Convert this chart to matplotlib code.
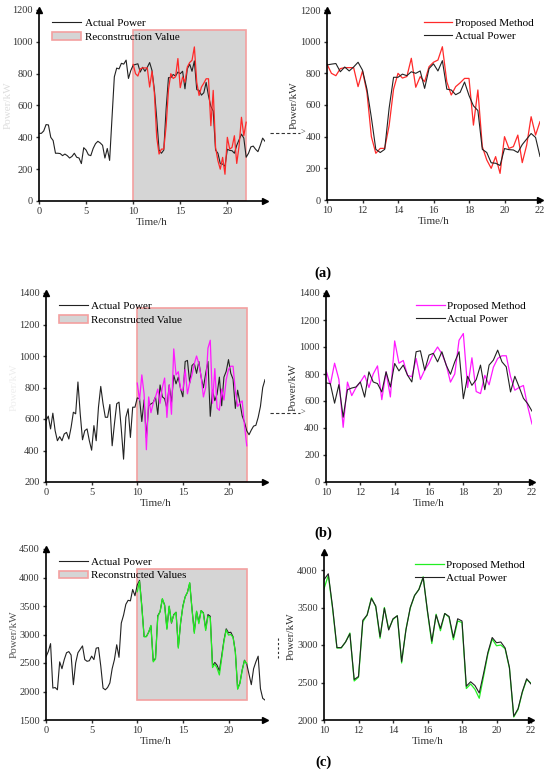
import numpy as np
import matplotlib.pyplot as plt
from matplotlib.lines import Line2D
from matplotlib.patches import Patch, Rectangle

plt.rcParams['font.family'] = ['Liberation Serif', 'DejaVu Serif']

# time axes (15 min steps)
t_day = np.arange(0, 24.01, 0.25)
t_win = np.arange(10, 22.01, 0.25)

# ---- case (a) ----
a_before = [425, 425, 440, 480, 478, 400, 380, 300, 300, 298, 285, 295, 285, 270, 280, 300,
            275, 270, 235, 335, 320, 290, 285, 330, 360, 375, 365, 350, 270, 330, 255, 520,
            780, 835, 830, 865, 860, 885, 770, 820]
a_actual = [853, 858, 862, 810, 840, 815, 840, 870, 820, 700, 520, 320, 300, 320, 580, 775,
            775, 795, 785, 810, 800, 815, 705, 830, 860, 815, 880, 700, 695, 665, 680, 745,
            660, 595, 565, 320, 300, 235, 232, 218, 325, 318, 316, 300, 350, 385, 420, 395, 275]
a_after = [300, 340, 345, 325, 310, 350, 395, 375]
a_recon = [858, 800, 785, 830, 836, 836, 836, 716, 815, 680, 400, 295, 326, 326, 470, 700,
           800, 770, 780, 895, 712, 779, 747, 842, 870, 884, 968, 747, 663, 716, 740, 768,
           768, 473, 695, 337, 253, 200, 274, 168, 400, 326, 337, 410, 236, 347, 526, 410, 495]

# ---- case (b) ----
b_before = [590, 618, 537, 637, 526, 462, 488, 462, 505, 515, 473, 547, 643, 633, 835, 633,
            468, 526, 537, 462, 402, 558, 462, 675, 807, 697, 611, 611, 692, 430, 569, 697,
            707, 537, 345, 611, 665, 483, 675, 675]
b_actual = [734, 729, 584, 721, 480, 684, 696, 704, 741, 629, 816, 741, 729, 667, 816, 704,
            878, 823, 866, 791, 741, 965, 972, 828, 940, 953, 890, 965, 866, 798, 890, 965,
            617, 783, 716, 758, 866, 684, 866, 903, 977, 890, 853, 667, 783, 704, 620, 580, 525]
b_after = [500, 530, 555, 560, 610, 680, 800, 850]
b_recon = [828, 720, 880, 760, 405, 740, 640, 700, 740, 790, 700, 800, 860, 610, 816, 630,
           1045, 880, 900, 790, 780, 915, 760, 830, 880, 950, 1000, 950, 870, 740, 800, 1050,
           1100, 700, 920, 670, 655, 790, 720, 850, 915, 935, 935, 780, 680, 700, 715, 560, 430]

# ---- case (c) ----
c_before = [2610, 2700, 2840, 2060, 2070, 2030, 2520, 2400, 2560, 2680, 2700, 2640, 2120, 2500,
            2680, 2740, 2800, 2560, 2530, 2540, 2620, 2560, 2760, 2770, 2450, 2060, 2030, 2070,
            2150, 2400, 2560, 2820, 2600, 3200, 3340, 3530, 3600, 3590, 3790, 3680]
c_actual = [3870, 3950, 3500, 2965, 2965, 3040, 3150, 2540, 2580, 3330, 3400, 3620, 3520, 3110,
            3490, 3200, 3350, 3390, 2780, 3200, 3500, 3660, 3740, 3900, 3450, 3050, 3400, 3220,
            3420, 3380, 3100, 3350, 3320, 2450, 2510, 2460, 2360, 2620, 2900, 3100, 3030, 3040,
            2960, 2700, 2050, 2150, 2380, 2550, 2480]
c_after = [2300, 2120, 2400, 2520, 2620, 2050, 1880, 1850]
c_recon = [3750, 3930, 3480, 2960, 2960, 3040, 3160, 2520, 2570, 3310, 3400, 3630, 3510, 3090,
           3500, 3210, 3340, 3390, 2760, 3210, 3490, 3660, 3740, 3910, 3440, 3020, 3410, 3190,
           3420, 3370, 3070, 3320, 3300, 2420, 2480, 2410, 2290, 2580, 2880, 3080, 2990, 3000,
           2950, 2690, 2040, 2140, 2370, 2540, 2490]

cases = [
    dict(before=a_before, actual=a_actual, after=a_after, recon=a_recon, color='#ff2a2a',
         lylim=(0, 1200), lyticks=range(0, 1201, 200), rylim=(0, 1200), ryticks=range(0, 1201, 200),
         box=(0, 1075), patch_label='Reconstruction Value', tag='(a)',
         left_ax=[39, 10, 265, 201], right_ax=[327, 10, 540, 200], ylab_color='#dddddd'),
    dict(before=b_before, actual=b_actual, after=b_after, recon=b_recon, color='#ff1aff',
         lylim=(200, 1400), lyticks=range(200, 1401, 200), rylim=(0, 1400), ryticks=range(0, 1401, 200),
         box=(200, 1305), patch_label='Reconstructed Value', tag='(b)',
         left_ax=[46, 293, 265, 482], right_ax=[326, 293, 532, 482], ylab_color='#eeeeee'),
    dict(before=c_before, actual=c_actual, after=c_after, recon=c_recon, color='#22ee22',
         lylim=(1500, 4500), lyticks=range(1500, 4501, 500), rylim=(2000, 4240), ryticks=range(2000, 4001, 500),
         box=(1850, 4150), patch_label='Reconstructed Values', tag='(c)',
         left_ax=[46, 549, 265, 720], right_ax=[324, 552, 531, 720], ylab_color='#555555'),
]
tag_y = [273, 533, 762]

W, H = 550, 777
fig = plt.figure(figsize=(5.5, 7.77), dpi=100)


def make_axes(box):
    x0, y0, x1, y1 = box
    return fig.add_axes([x0 / W, 1 - y1 / H, (x1 - x0) / W, (y1 - y0) / H])


def style(ax):
    for s in ['top', 'right']:
        ax.spines[s].set_visible(False)
    for s in ['left', 'bottom']:
        ax.spines[s].set_linewidth(1.2)
    ax.tick_params(direction='out', length=2.5, width=1, labelsize=7.5, colors='#333333', pad=2)
    ax.plot(1, 0, '>', color='k', ms=4, transform=ax.transAxes, clip_on=False)
    ax.plot(0, 1, '^', color='k', ms=4, transform=ax.transAxes, clip_on=False)
    ax.set_xlabel('Time/h', fontsize=8, color='#333333', labelpad=1)


for k, c in enumerate(cases):
    full = c['before'] + c['actual'] + c['after']

    # left: whole day with reconstruction window
    ax = make_axes(c['left_ax'])
    ax.add_patch(Rectangle((10, c['box'][0]), 12, c['box'][1] - c['box'][0],
                           facecolor='#d5d5d5', edgecolor='#f4a0a0', lw=1.2, zorder=0))
    ax.plot(t_day, full, color='#222222', lw=0.8)
    ax.plot(t_win, c['recon'], color=c['color'], lw=0.9)
    ax.set_xlim(0, 24)
    ax.set_ylim(*c['lylim'])
    ax.set_yticks(list(c['lyticks']))
    ax.set_xticks([0, 5, 10, 15, 20])
    style(ax)
    ax.set_ylabel('Power/kW', fontsize=8, color=c['ylab_color'], labelpad=0)
    handles = [Line2D([], [], color='#222222', lw=0.8),
               Patch(facecolor='#d5d5d5', edgecolor='#f4a0a0', lw=1.2)]
    ax.legend(handles, ['Actual Power', c['patch_label']], loc='upper left',
              bbox_to_anchor=(0.04, 0.98), frameon=False, fontsize=8,
              handlelength=2.6, handletextpad=0.3, labelspacing=0.35, borderaxespad=0)

    # right: zoomed window
    ax = make_axes(c['right_ax'])
    ax.plot(t_win, c['recon'], color=c['color'], lw=0.9, label='Proposed Method')
    ax.plot(t_win, c['actual'], color='#222222', lw=0.8, label='Actual Power')
    ax.set_xlim(10, 22)
    ax.set_ylim(*c['rylim'])
    ax.set_yticks(list(c['ryticks']))
    ax.set_xticks(range(10, 23, 2))
    style(ax)
    ax.set_ylabel('Power/kW', fontsize=8, color='#333333', labelpad=1)
    ax.legend(loc='upper right', bbox_to_anchor=(0.99, 0.98), frameon=False, fontsize=8,
              handlelength=2.6, handletextpad=0.2, labelspacing=0.3, borderaxespad=0)

    fig.text(323 / W, 1 - tag_y[k] / H, c['tag'], fontsize=10.5, fontweight='bold',
             ha='center', va='center')

# dashed pointers next to the right-hand y labels
for y in [133, 413]:
    fig.add_artist(plt.Line2D([270 / W, 300 / W], [1 - y / H, 1 - y / H], color='#333333',
                              lw=0.8, ls=(0, (3, 2))))
    fig.text(303 / W, 1 - y / H, '>', fontsize=6, ha='center', va='center', color='#333333')
fig.add_artist(plt.Line2D([278 / W, 278 / W], [1 - 638 / H, 1 - 660 / H], color='#333333',
                          lw=0.8, ls=(0, (2, 2))))

fig.savefig('out.png', dpi=100)
